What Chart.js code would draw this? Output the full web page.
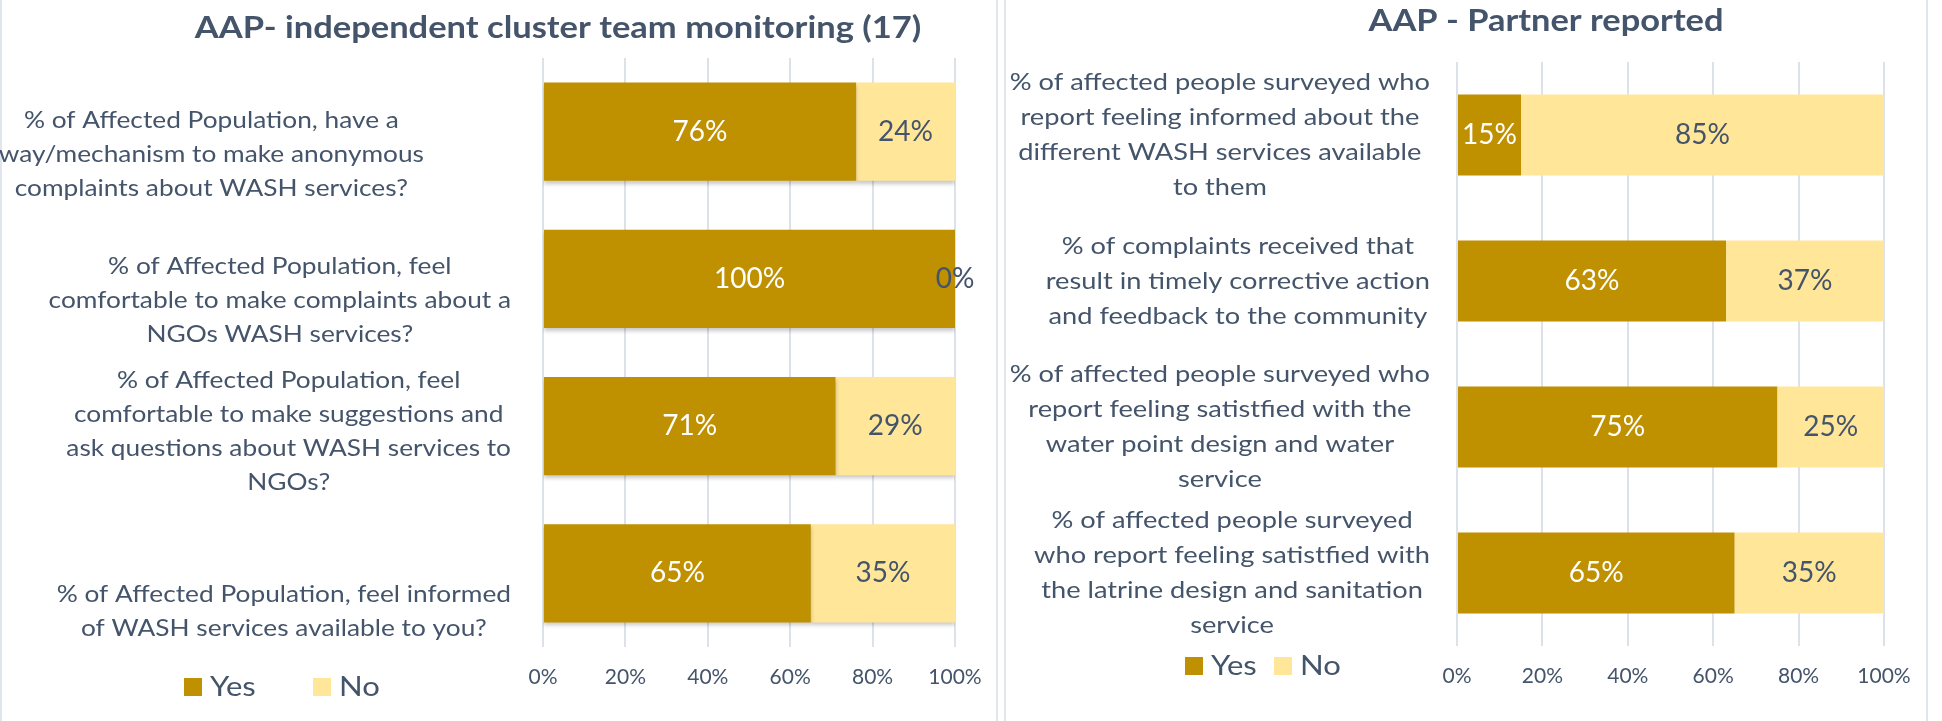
<!DOCTYPE html>
<html>
<head>
<meta charset="utf-8">
<title>AAP charts</title>
<script src="https://cdn.jsdelivr.net/npm/chart.js@4.4.1/dist/chart.umd.min.js"></script>
<style>
  html, body { margin: 0; padding: 0; background: #fff; }
  body { width: 1942px; height: 721px; position: relative; overflow: hidden; }
  .frame { position: absolute; top: 0; bottom: 0; width: 0; border-left: 2px solid #e1e6ee; }
  canvas { position: absolute; left: 0; top: 0; }
</style>
</head>
<body>
<div class="frame" style="left:0"></div>
<div class="frame" style="left:996px"></div>
<div class="frame" style="left:1004px"></div>
<div class="frame" style="left:1926px"></div>
<canvas id="leftChart" width="1942" height="721"></canvas>
<canvas id="rightChart" width="1942" height="721"></canvas>
<script>
// data
const seriesNames = ['Yes', 'No'];

const leftTitle = 'AAP- independent cluster team monitoring (17)';
const leftCategories = [
  ['% of Affected Population, have a', 'way/mechanism to make anonymous', 'complaints about WASH services?'],
  ['% of Affected Population, feel', 'comfortable to make complaints about a', 'NGOs WASH services?'],
  ['% of Affected Population, feel', 'comfortable to make suggestions and', 'ask questions about WASH services to', 'NGOs?'],
  ['% of Affected Population, feel informed', 'of WASH services available to you?']
];
const leftYes = [76, 100, 71, 65];
const leftNo = [24, 0, 29, 35];

const rightTitle = 'AAP - Partner reported';
const rightCategories = [
  ['% of affected people surveyed who', 'report feeling informed about the', 'different WASH services available', 'to them'],
  ['% of complaints received that', 'result in timely corrective action', 'and feedback to the community'],
  ['% of affected people surveyed who', 'report feeling satistfied with the', 'water point design and water', 'service'],
  ['% of affected people surveyed', 'who report feeling satistfied with', 'the latrine design and sanitation', 'service']
];
const rightYes = [15, 63, 75, 65];
const rightNo = [85, 37, 25, 35];

const xTicks = [0, 20, 40, 60, 80, 100];

// styles
const YES_COLOR = '#BF9000';
const NO_COLOR = '#FFE699';
const TEXT_COLOR = '#44546A';
const GRID_COLOR = '#DCE1EA';
const FONT = "Lato, 'Open Sans', sans-serif";

// text drawn a little wider, like the original Calibri text
function wideText(ctx, text, x, y, sx) {
  ctx.save();
  ctx.translate(x, y);
  ctx.scale(sx, 1);
  ctx.fillText(text, 0, 0);
  ctx.restore();
}

// draws title, category labels, value labels and legend
const panelDecor = {
  id: 'panelDecor',
  beforeDatasetsDraw(chart, args, opts) {
    if (opts.shadow) {
      const ctx = chart.ctx;
      ctx.save();
      ctx.shadowColor = 'rgba(0,0,0,0.22)';
      ctx.shadowBlur = 4;
      ctx.shadowOffsetY = 3;
    }
  },
  afterDatasetsDraw(chart, args, opts) {
    const ctx = chart.ctx;
    if (opts.shadow) ctx.restore();

    // value labels
    ctx.save();
    ctx.font = opts.valueSize + 'px ' + FONT;
    ctx.textAlign = 'center';
    ctx.textBaseline = 'middle';
    chart.data.datasets.forEach((ds, di) => {
      const meta = chart.getDatasetMeta(di);
      ctx.fillStyle = di === 0 ? '#ffffff' : TEXT_COLOR;
      meta.data.forEach((bar, i) => {
        ctx.fillText(ds.data[i] + '%', (bar.x + bar.base) / 2, bar.y);
      });
    });
    ctx.restore();
  },
  afterDraw(chart, args, opts) {
    const ctx = chart.ctx;
    const yScale = chart.scales.y;
    ctx.save();
    ctx.fillStyle = TEXT_COLOR;
    ctx.textAlign = 'center';
    ctx.textBaseline = 'middle';

    // title
    ctx.font = 'bold ' + opts.titleSize + 'px ' + FONT;
    wideText(ctx, opts.title, opts.titleX, opts.titleY, opts.titleSx);

    // category labels: block right-aligned, lines centred inside it
    ctx.font = opts.labelSize + 'px ' + FONT;
    chart.data.labels.forEach((lines, i) => {
      const nudge = opts.nudges[i] || {dx: 0, dy: 0};
      const w = Math.max(...lines.map(l => ctx.measureText(l).width)) * opts.labelSx;
      const cx = chart.chartArea.left - opts.labelGap + nudge.dx - w / 2;
      const cy = yScale.getPixelForValue(i) + nudge.dy;
      const y0 = cy - (lines.length - 1) * opts.lineHeight / 2;
      lines.forEach((l, k) => wideText(ctx, l, cx, y0 + k * opts.lineHeight, opts.labelSx));
    });

    // legend
    ctx.font = opts.legendSize + 'px ' + FONT;
    ctx.textAlign = 'left';
    chart.data.datasets.forEach((ds, di) => {
      const x = opts.legendX[di];
      ctx.fillStyle = ds.backgroundColor;
      ctx.fillRect(x, opts.legendY, 18, 18);
      ctx.fillStyle = TEXT_COLOR;
      wideText(ctx, ds.label, x + 26, opts.legendY + 9, opts.legendSx);
    });
    ctx.restore();
  }
};

function makeChart(id, labels, yes, no, pad, xHeight, barPct, decor) {
  return new Chart(document.getElementById(id), {
    type: 'bar',
    data: {
      labels: labels,
      datasets: [
        { label: seriesNames[0], data: yes, backgroundColor: YES_COLOR },
        { label: seriesNames[1], data: no, backgroundColor: NO_COLOR }
      ]
    },
    options: {
      indexAxis: 'y',
      responsive: false,
      animation: false,
      layout: { padding: pad },
      datasets: { bar: { categoryPercentage: 1, barPercentage: barPct, borderWidth: 0 } },
      scales: {
        x: {
          stacked: true,
          min: 0,
          max: 100,
          afterBuildTicks: s => { s.ticks = xTicks.map(v => ({ value: v })); },
          afterFit: s => { s.height = xHeight; },
          grid: { color: GRID_COLOR, lineWidth: 2, drawTicks: false },
          border: { display: false },
          ticks: {
            padding: 18,
            color: TEXT_COLOR,
            font: { family: FONT, size: 21 },
            callback: v => v + '%'
          }
        },
        y: { stacked: true, display: false }
      },
      plugins: {
        legend: { display: false },
        tooltip: { enabled: false },
        panelDecor: decor
      }
    },
    plugins: [panelDecor]
  });
}

makeChart('leftChart', leftCategories, leftYes, leftNo,
  { left: 543, right: 987, top: 58, bottom: 0 }, 74, 0.666, {
    title: leftTitle, titleX: 558, titleY: 28, titleSize: 30, titleSx: 1.15,
    labelSize: 24, labelSx: 1.095, lineHeight: 34, labelGap: 32,
    nudges: [{dx: -87, dy: 23}, {dx: 0, dy: 21}, {dx: 0, dy: 5}, {dx: 0, dy: 38}],
    valueSize: 28, legendSize: 27, legendSx: 1.15, legendX: [184, 313], legendY: 678, shadow: true
  });

makeChart('rightChart', rightCategories, rightYes, rightNo,
  { left: 1457, right: 58, top: 62, bottom: 0 }, 75, 0.555, {
    title: rightTitle, titleX: 1546, titleY: 21, titleSize: 31, titleSx: 1.11,
    labelSize: 24, labelSx: 1.135, lineHeight: 35, labelGap: 27,
    nudges: [],
    valueSize: 28, legendSize: 27, legendSx: 1.15, legendX: [1185, 1274], legendY: 657, shadow: false
  });
</script>
</body>
</html>
